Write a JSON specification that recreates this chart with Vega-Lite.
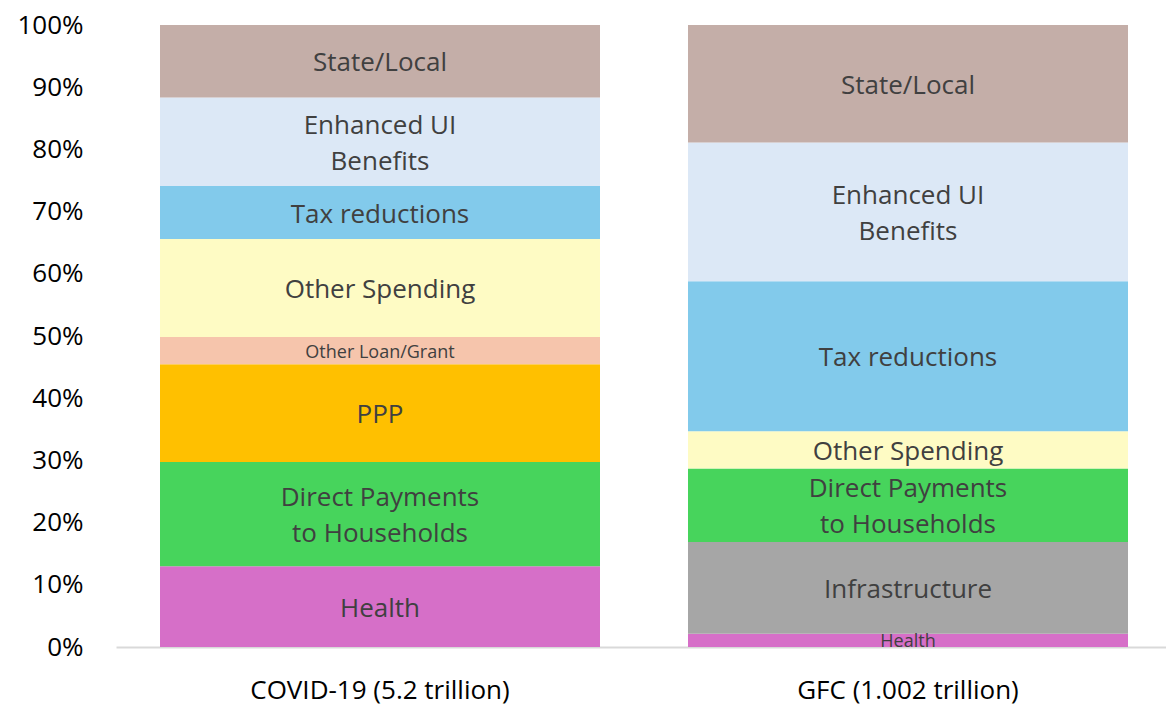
{
  "$schema": "https://vega.github.io/schema/vega-lite/v6.json",
  "width": 1050,
  "height": 622,
  "autosize": {"type": "none"},
  "padding": {"left": 116, "top": 25, "right": 0, "bottom": 62},
  "background": "white",
  "config": {"view": {"stroke": null}, "font": "Open Sans"},
  "data": {
    "values": [
      {"group": "COVID-19 (5.2 trillion)", "category": "Health", "label": "Health", "rank": 1, "value": 13.0},
      {"group": "COVID-19 (5.2 trillion)", "category": "Direct Payments", "label": "Direct Payments\nto Households", "rank": 3, "value": 16.75},
      {"group": "COVID-19 (5.2 trillion)", "category": "PPP", "label": "PPP", "rank": 4, "value": 15.7},
      {"group": "COVID-19 (5.2 trillion)", "category": "Other Loan/Grant", "label": "Other Loan/Grant", "rank": 5, "value": 4.4},
      {"group": "COVID-19 (5.2 trillion)", "category": "Other Spending", "label": "Other Spending", "rank": 6, "value": 15.75},
      {"group": "COVID-19 (5.2 trillion)", "category": "Tax reductions", "label": "Tax reductions", "rank": 7, "value": 8.5},
      {"group": "COVID-19 (5.2 trillion)", "category": "Enhanced UI Benefits", "label": "Enhanced UI\nBenefits", "rank": 8, "value": 14.25},
      {"group": "COVID-19 (5.2 trillion)", "category": "State/Local", "label": "State/Local", "rank": 9, "value": 11.65},
      {"group": "GFC (1.002 trillion)", "category": "Health", "label": "Health", "rank": 1, "value": 2.15},
      {"group": "GFC (1.002 trillion)", "category": "Infrastructure", "label": "Infrastructure", "rank": 2, "value": 14.75},
      {"group": "GFC (1.002 trillion)", "category": "Direct Payments", "label": "Direct Payments\nto Households", "rank": 3, "value": 11.8},
      {"group": "GFC (1.002 trillion)", "category": "Other Spending", "label": "Other Spending", "rank": 6, "value": 6.0},
      {"group": "GFC (1.002 trillion)", "category": "Tax reductions", "label": "Tax reductions", "rank": 7, "value": 24.1},
      {"group": "GFC (1.002 trillion)", "category": "Enhanced UI Benefits", "label": "Enhanced UI\nBenefits", "rank": 8, "value": 22.3},
      {"group": "GFC (1.002 trillion)", "category": "State/Local", "label": "State/Local", "rank": 9, "value": 18.9}
    ]
  },
  "transform": [
    {"stack": "value", "groupby": ["group"], "sort": [{"field": "rank", "order": "ascending"}], "as": ["y0", "y1"]},
    {"calculate": "(datum.y0 + datum.y1) / 2", "as": "ymid"}
  ],
  "encoding": {
    "x": {
      "field": "group",
      "type": "nominal",
      "sort": ["COVID-19 (5.2 trillion)", "GFC (1.002 trillion)"],
      "scale": {"paddingInner": 0.16667, "paddingOuter": 0.07765, "align": 0.5366},
      "axis": {
        "title": null,
        "ticks": false,
        "domainColor": "#D9D9D9",
        "domainWidth": 2,
        "labelAngle": 0,
        "labelFontSize": 26,
        "labelColor": "#000000",
        "labelPadding": 30,
        "labelLimit": 0
      }
    }
  },
  "layer": [
    {
      "mark": {"type": "bar"},
      "encoding": {
        "y": {
          "field": "y0",
          "type": "quantitative",
          "scale": {"domain": [0, 100]},
          "axis": {
            "title": null,
            "values": [0, 10, 20, 30, 40, 50, 60, 70, 80, 90, 100],
            "labelExpr": "datum.value + '%'",
            "domain": false,
            "ticks": false,
            "grid": false,
            "labelFontSize": 26,
            "labelColor": "#000000",
            "labelPadding": 33
          }
        },
        "y2": {"field": "y1"},
        "color": {
          "field": "category",
          "type": "nominal",
          "legend": null,
          "scale": {
            "domain": ["Health", "Infrastructure", "Direct Payments", "PPP", "Other Loan/Grant", "Other Spending", "Tax reductions", "Enhanced UI Benefits", "State/Local"],
            "range": ["#D66FC8", "#A6A6A6", "#47D45C", "#FFC000", "#F6C5AC", "#FEFBC4", "#82CAEB", "#DCE8F6", "#C4AEA8"]
          }
        }
      }
    },
    {
      "transform": [{"filter": "indexof(datum.label, '\\n') < 0"}],
      "mark": {"type": "text", "baseline": "middle", "align": "center", "color": "#404040", "dy": 2},
      "encoding": {
        "y": {"field": "ymid", "type": "quantitative", "title": null},
        "text": {"field": "label"},
        "size": {"condition": {"test": "datum.value < 5", "value": 18}, "value": 26}
      }
    },
    {
      "transform": [{"filter": "indexof(datum.label, '\\n') >= 0"}],
      "mark": {"type": "text", "lineBreak": "\n", "lineHeight": 36, "baseline": "middle", "align": "center", "color": "#404040", "dy": -16, "fontSize": 26},
      "encoding": {
        "y": {"field": "ymid", "type": "quantitative", "title": null},
        "text": {"field": "label"}
      }
    }
  ]
}
